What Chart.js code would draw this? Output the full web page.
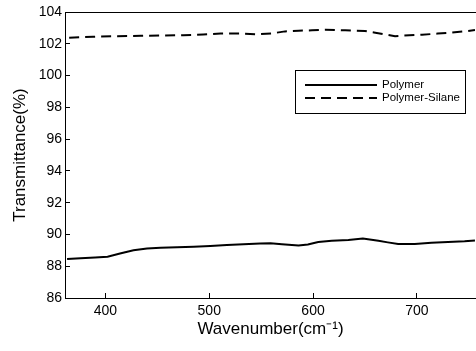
<!DOCTYPE html>
<html>
<head>
<meta charset="utf-8">
<script src="https://cdn.jsdelivr.net/npm/chart.js@4.4.0/dist/chart.umd.min.js"></script>
<style>
  html, body { margin: 0; padding: 0; background: #fff; }
</style>
</head>
<body>
<canvas id="spectrum" width="476" height="351"></canvas>
<script>
// data
const polymerX = [363, 376, 390, 402, 414, 427, 440, 453, 469, 485, 501, 517, 533, 549, 559, 570, 586, 595, 605, 618, 634, 648, 663, 672, 682, 698, 714, 730, 746, 756];
const polymerY = [88.45, 88.50, 88.55, 88.60, 88.80, 89.00, 89.12, 89.17, 89.20, 89.23, 89.28, 89.33, 89.38, 89.43, 89.44, 89.38, 89.30, 89.37, 89.52, 89.60, 89.65, 89.75, 89.60, 89.50, 89.40, 89.40, 89.48, 89.52, 89.57, 89.62];
const silaneX = [365, 388, 411, 434, 456, 475, 494, 511, 530, 546, 560, 573, 586, 599, 612, 631, 650, 660, 669, 679, 688, 705, 720, 733, 749, 756];
const silaneY = [102.38, 102.44, 102.48, 102.50, 102.52, 102.54, 102.58, 102.64, 102.65, 102.60, 102.65, 102.78, 102.82, 102.85, 102.88, 102.85, 102.80, 102.70, 102.60, 102.48, 102.52, 102.57, 102.64, 102.70, 102.80, 102.86];
const xTicks = [400, 500, 600, 700];
const yTicks = [86, 88, 90, 92, 94, 96, 98, 100, 102, 104];
const seriesNames = ["Polymer", "Polymer-Silane"];

const FONT = "'Liberation Sans', Arial, sans-serif";

function toPoints(xs, ys) {
    return xs.map((x, i) => ({ x: x, y: ys[i] }));
}

// top frame line (plot is cut off on the right)
const frameTop = {
    id: "frameTop",
    afterDraw(chart) {
        const { ctx, chartArea } = chart;
        ctx.save();
        ctx.strokeStyle = "#000";
        ctx.lineWidth = 1;
        ctx.beginPath();
        ctx.moveTo(chartArea.left, chartArea.top + 0.5);
        ctx.lineTo(chartArea.right, chartArea.top + 0.5);
        ctx.stroke();
        ctx.restore();
    }
};

// boxed legend inside the plot
const boxLegend = {
    id: "boxLegend",
    afterDraw(chart) {
        const ctx = chart.ctx;
        const bx = 295, by = 70, bw = 170, bh = 43;
        ctx.save();
        ctx.strokeStyle = "#000";
        ctx.lineWidth = 1;
        ctx.fillStyle = "#fff";
        ctx.fillRect(bx, by, bw, bh);
        ctx.strokeRect(bx + 0.5, by + 0.5, bw, bh);
        ctx.font = "11.5px " + FONT;
        ctx.textBaseline = "middle";
        chart.data.datasets.forEach((ds, i) => {
            const y = by + 15 + i * 13;
            ctx.beginPath();
            ctx.setLineDash(ds.borderDash || []);
            ctx.lineWidth = ds.borderWidth;
            ctx.strokeStyle = ds.borderColor;
            ctx.moveTo(bx + 10, y);
            ctx.lineTo(bx + 82, y);
            ctx.stroke();
            ctx.setLineDash([]);
            ctx.fillStyle = "#000";
            ctx.fillText(ds.label, bx + 87, y);
        });
        ctx.restore();
    }
};

new Chart(document.getElementById("spectrum"), {
    type: "line",
    data: {
        datasets: [
            {
                label: seriesNames[0],
                data: toPoints(polymerX, polymerY),
                borderColor: "#000",
                borderWidth: 2,
                pointRadius: 0,
                tension: 0
            },
            {
                label: seriesNames[1],
                data: toPoints(silaneX, silaneY),
                borderColor: "#000",
                borderWidth: 2,
                borderDash: [10, 6],
                pointRadius: 0,
                tension: 0
            }
        ]
    },
    options: {
        responsive: false,
        animation: false,
        devicePixelRatio: 1,
        layout: { padding: { left: 0, right: 0, top: 12, bottom: 0 } },
        plugins: {
            legend: { display: false },
            tooltip: { enabled: false }
        },
        scales: {
            x: {
                type: "linear",
                min: 361,
                max: 757,
                afterBuildTicks: s => { s.ticks = xTicks.map(v => ({ value: v })); },
                afterFit: s => { s.height = 53; s.paddingLeft = 0; s.paddingRight = 0; },
                border: { display: true, color: "#000", width: 1 },
                grid: { drawOnChartArea: false, color: "#000", tickLength: -5 },
                ticks: { color: "#000", padding: 10, font: { family: FONT, size: 14 } },
                title: {
                    display: true,
                    text: "Wavenumber(cm⁻¹)",
                    color: "#000",
                    font: { family: FONT, size: 17 },
                    padding: { top: 11, bottom: 11 }
                }
            },
            y: {
                min: 86,
                max: 104,
                afterBuildTicks: s => { s.ticks = yTicks.map(v => ({ value: v })); },
                afterFit: s => { s.width = 65; s.paddingTop = 0; s.paddingBottom = 0; },
                border: { display: true, color: "#000", width: 1 },
                grid: { drawOnChartArea: false, color: "#000", tickLength: -5 },
                ticks: { color: "#000", padding: 8, font: { family: FONT, size: 14 } },
                title: {
                    display: true,
                    text: "Transmittance(%)",
                    color: "#000",
                    font: { family: FONT, size: 17 },
                    padding: { top: 10, bottom: 10 }
                }
            }
        }
    },
    plugins: [frameTop, boxLegend]
});
</script>
</body>
</html>
